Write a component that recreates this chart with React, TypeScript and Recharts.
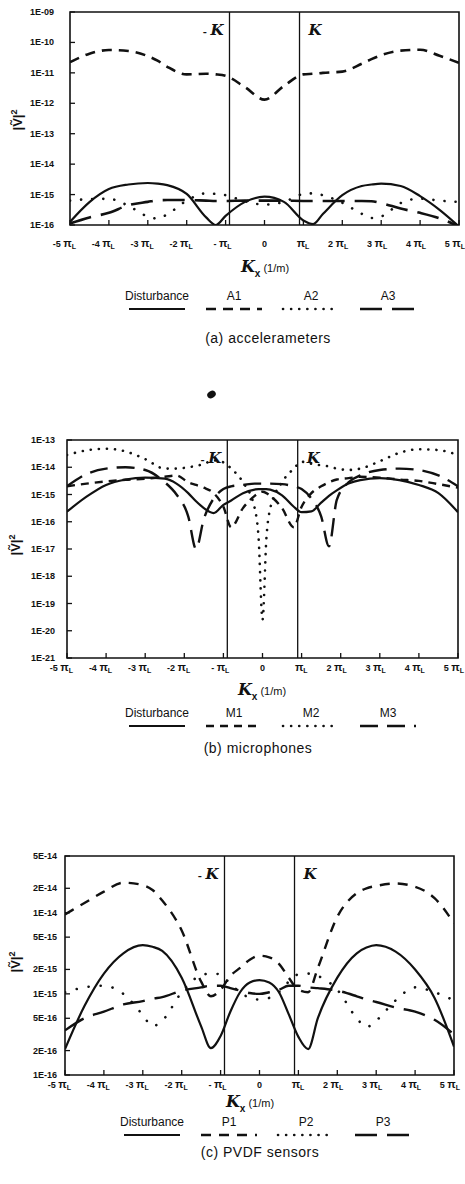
import { LineChart, Line, XAxis, YAxis, ReferenceLine, ReferenceArea } from "recharts";

const INK = "#111";
const SANS = "'Liberation Sans', Arial, sans-serif";

// all series are log10 |V|^2
const xA = [-5, -4.5, -4, -3.5, -3, -2.75, -2.5, -2, -1.5, -1.25, -1, -0.5, 0, 0.5, 1, 1.25, 1.5, 2, 2.5, 2.75, 3, 3.5, 4, 4.5, 5];
const distA = [-15.9, -15.25, -14.82, -14.67, -14.62, -14.64, -14.69, -14.98, -15.75, -16.0, -15.7, -15.24, -15.07, -15.24, -15.85, -15.97, -15.64, -15.02, -14.72, -14.67, -14.64, -14.72, -15.05, -15.5, -16.05];
const a1 = [-10.65, -10.37, -10.25, -10.28, -10.45, -10.6, -10.8, -11.05, -11.03, -11.05, -11.1, -11.47, -11.88, -11.43, -11.05, -11.03, -11.0, -10.96, -10.7, -10.55, -10.42, -10.27, -10.24, -10.44, -10.67];
const a2 = [-15.2, -15.15, -15.14, -15.37, -15.72, -15.79, -15.65, -15.2, -14.96, -14.98, -15.02, -15.22, -15.33, -15.24, -14.98, -14.96, -15.02, -15.27, -15.63, -15.77, -15.72, -15.28, -15.13, -15.2, -15.24];
const a3 = [-15.95, -15.75, -15.6, -15.35, -15.24, -15.19, -15.18, -15.18, -15.2, -15.21, -15.21, -15.2, -15.2, -15.2, -15.21, -15.21, -15.21, -15.21, -15.21, -15.22, -15.28, -15.46, -15.6, -15.78, -16.05];

const xB = [-5, -4.5, -4, -3.5, -3, -2.5, -2.2, -1.9, -1.7, -1.5, -1.25, -1, -0.8, -0.5, -0.2, -0.1, 0, 0.1, 0.2, 0.5, 0.8, 1, 1.25, 1.5, 1.7, 1.9, 2.2, 2.5, 3, 3.5, 4, 4.5, 5];
const distB = [-15.63, -15.08, -14.65, -14.45, -14.38, -14.42, -14.6, -14.95, -15.25, -15.5, -15.68, -15.38, -15.22, -14.95, -14.82, -14.8, -14.8, -14.8, -14.82, -15.03, -15.45, -15.65, -15.62, -15.3, -15.05, -14.85, -14.6, -14.47, -14.4, -14.47, -14.65, -14.95, -15.65];
const m1 = [-14.7, -14.6, -14.52, -14.46, -14.42, -14.35, -14.3, -14.55, -14.65, -14.75, -14.95, -15.45, -16.2, -15.5, -15.05, -14.95, -14.9, -14.95, -15.05, -15.5, -16.2, -15.45, -14.95, -14.7, -14.55, -14.45, -14.4, -14.35, -14.38, -14.45, -14.5, -14.62, -14.75];
const m2 = [-13.55, -13.38, -13.32, -13.42, -13.7, -14.05, -14.05, -14.0, -13.95, -13.88, -13.75, -13.82, -14.05, -14.55, -15.5, -16.6, -19.6, -16.6, -15.5, -14.55, -14.05, -13.8, -13.87, -13.93, -13.97, -14.05, -14.1, -14.05, -13.78, -13.47, -13.34, -13.37, -13.55];
const m3 = [-14.7, -14.25, -14.05, -14.0, -14.1, -14.55, -15.0, -15.8, -17.0, -15.9, -15.15, -14.8, -14.7, -14.65, -14.6, -14.6, -14.6, -14.6, -14.6, -14.62, -14.7, -14.8, -15.15, -15.8, -16.9, -15.2, -14.55, -14.3, -14.1, -14.05, -14.1, -14.3, -14.7];

const xC = [-5, -4.5, -4, -3.5, -3, -2.75, -2.5, -2, -1.5, -1.25, -1, -0.75, -0.5, -0.25, 0, 0.25, 0.5, 0.75, 1, 1.25, 1.5, 2, 2.5, 2.75, 3, 3.5, 4, 4.5, 5];
const distC = [-15.68, -15.15, -14.75, -14.5, -14.4, -14.42, -14.47, -14.8, -15.4, -15.67, -15.52, -15.22, -14.98, -14.86, -14.83, -14.86, -14.98, -15.25, -15.53, -15.68, -15.3, -14.8, -14.5, -14.43, -14.4, -14.48, -14.7, -15.05, -15.65];
const p1 = [-14.02, -13.88, -13.74, -13.63, -13.66, -13.72, -13.85, -14.22, -14.85, -15.03, -14.95, -14.78, -14.68, -14.58, -14.53, -14.55, -14.63, -14.8, -14.95, -14.98, -14.68, -14.05, -13.76, -13.7, -13.67, -13.64, -13.68, -13.82, -14.13];
const p2 = [-14.98, -14.92, -14.9, -15.0, -15.26, -15.4, -15.33, -14.98, -14.77, -14.75, -14.76, -14.88, -14.98, -15.05, -15.07, -15.05, -14.98, -14.85, -14.76, -14.75, -14.78, -14.95, -15.3, -15.41, -15.33, -15.08, -14.92, -14.98, -15.08];
const p3 = [-15.45, -15.3, -15.22, -15.13, -15.09, -15.06, -15.04, -14.96, -14.92, -14.9, -14.9, -14.93, -14.96, -14.99, -15.0, -14.98, -14.95, -14.9, -14.9, -14.92, -14.93, -14.96, -15.03, -15.07, -15.1, -15.17, -15.22, -15.32, -15.5];

const yTicksA = ["1E-16", "1E-15", "1E-14", "1E-13", "1E-12", "1E-11", "1E-10", "1E-09"];
const yTicksB = ["1E-21", "1E-20", "1E-19", "1E-18", "1E-17", "1E-16", "1E-15", "1E-14", "1E-13"];
const yTicksC = ["1E-16", "2E-16", "5E-16", "1E-15", "2E-15", "5E-15", "1E-14", "2E-14", "5E-14"];
const xTicks = [-5, -4, -3, -2, -1, 0, 1, 2, 3, 4, 5];
const kappa = 0.9;

type Series = { key: string; label: string; values: number[]; dash?: string; width: number; round?: boolean };

const seriesA: Series[] = [
  { key: "dist", label: "Disturbance", values: distA, width: 2.2 },
  { key: "a1", label: "A1", values: a1, dash: "10 7", width: 2.6 },
  { key: "a2", label: "A2", values: a2, dash: "0.1 11", width: 2.6, round: true },
  { key: "a3", label: "A3", values: a3, dash: "22 10", width: 2.6 },
];
const seriesB: Series[] = [
  { key: "dist", label: "Disturbance", values: distB, width: 2.2 },
  { key: "m1", label: "M1", values: m1, dash: "8 6", width: 2.4 },
  { key: "m2", label: "M2", values: m2, dash: "0.1 8", width: 2.6, round: true },
  { key: "m3", label: "M3", values: m3, dash: "18 9", width: 2.4 },
];
const seriesC: Series[] = [
  { key: "dist", label: "Disturbance", values: distC, width: 2.2 },
  { key: "p1", label: "P1", values: p1, dash: "10 8", width: 2.4 },
  { key: "p2", label: "P2", values: p2, dash: "0.1 12", width: 2.6, round: true },
  { key: "p3", label: "P3", values: p3, dash: "22 10", width: 2.4 },
];

function XTick(props: any) {
  const { x, y, payload, dy } = props;
  const v = payload.value as number;
  const prefix = v === 1 ? "" : v === -1 ? "- " : `${v} `;
  const style = { fontFamily: SANS, fontSize: 9, fontWeight: 700, fill: INK };
  return (
    <g>
      <line x1={x} x2={x} y1={y} y2={y - 5} stroke={INK} strokeWidth={1.3} />
      {v === 0 ? (
        <text x={x} y={y + dy + 3} textAnchor="middle" style={style}>0</text>
      ) : (
        <text x={x + 6} y={y + dy + 3} textAnchor="end" style={style}>
          {prefix}
          <tspan fontSize={11}>π</tspan>
          <tspan fontSize={7} dy={1.5}>L</tspan>
        </text>
      )}
    </g>
  );
}

function YTick(props: any) {
  const { x, y, payload, labels, positions, gap } = props;
  const i = positions.findIndex((p: number) => Math.abs(p - payload.value) < 1e-6);
  return (
    <g>
      <line x1={x} x2={x + 5} y1={y} y2={y} stroke={INK} strokeWidth={1.3} />
      <text x={x - gap} y={y + 3} textAnchor="end" style={{ fontFamily: SANS, fontSize: 9, fontWeight: 700, fill: INK }}>
        {labels[i]}
      </text>
    </g>
  );
}

function KappaLabel(props: any) {
  const { viewBox, minus } = props;
  const { x, y } = viewBox;
  return (
    <text
      x={minus ? x - 6 : x + 9}
      y={y + 23}
      textAnchor={minus ? "end" : "start"}
      style={{ fontFamily: "'DejaVu Serif', serif", fontStyle: "italic", fontWeight: 700, fill: INK }}
    >
      {minus && <tspan fontSize={10} fontStyle="normal">- </tspan>}
      <tspan fontSize={15}>K</tspan>
    </text>
  );
}

type PanelProps = {
  top: number;
  height: number;
  plotTop: number;
  plotBottom: number;
  plotLeft: number;
  plotRight: number;
  xs: number[];
  series: Series[];
  yLabels: string[];
  xLabelDy: number;
  yLabelGap: number;
};

function Panel(p: PanelProps) {
  const rows = p.xs.map((x, i) => {
    const r: Record<string, number> = { x };
    p.series.forEach((s) => (r[s.key] = s.values[i]));
    return r;
  });
  const yPos = p.yLabels.map((l) => Math.log10(Number(l)));
  const yMin = yPos[0];
  const yMax = yPos[yPos.length - 1];
  const xAxisH = 20;
  const margin = {
    top: p.plotTop - p.top,
    right: 465 - p.plotRight,
    left: 0,
    bottom: p.height - (p.plotBottom - p.top) - xAxisH,
  };
  return (
    <div style={{ position: "absolute", left: 0, top: p.top }}>
      <LineChart width={465} height={p.height} data={rows} margin={margin}>
        <XAxis
          dataKey="x"
          type="number"
          domain={[-5, 5]}
          ticks={xTicks}
          interval={0}
          height={xAxisH}
          tickSize={0}
          tickMargin={0}
          axisLine={false}
          tickLine={false}
          allowDataOverflow
          tick={<XTick dy={p.xLabelDy} />}
        />
        <YAxis
          type="number"
          domain={[yMin, yMax]}
          ticks={yPos}
          interval={0}
          width={p.plotLeft}
          tickSize={0}
          tickMargin={0}
          axisLine={false}
          tickLine={false}
          allowDataOverflow
          tick={<YTick labels={p.yLabels} positions={yPos} gap={p.yLabelGap} />}
        />
        <ReferenceArea x1={-5} x2={5} y1={yMin} y2={yMax} fill="none" stroke={INK} strokeWidth={1.6} fillOpacity={0} />
        <ReferenceLine x={-kappa} stroke={INK} strokeWidth={1.3} label={<KappaLabel minus />} />
        <ReferenceLine x={kappa} stroke={INK} strokeWidth={1.3} label={<KappaLabel />} />
        {p.series.map((s) => (
          <Line
            key={s.key}
            type="monotone"
            dataKey={s.key}
            stroke={INK}
            strokeWidth={s.width}
            strokeDasharray={s.dash}
            strokeLinecap={s.round ? "round" : "butt"}
            dot={false}
            activeDot={false}
            isAnimationActive={false}
          />
        ))}
      </LineChart>
    </div>
  );
}

function LegendRow({ top, start, series }: { top: number; start: number; series: Series[] }) {
  return (
    <svg style={{ position: "absolute", left: 0, top }} width={465} height={26}>
      {series.map((s, i) => {
        const cx = start + i * 77;
        return (
          <g key={s.key}>
            <text x={cx} y={14} textAnchor="middle" style={{ fontFamily: SANS, fontSize: 12, fill: INK }}>
              {s.label}
            </text>
            <line
              x1={cx - 28}
              x2={cx + 28}
              y1={23}
              y2={23}
              stroke={INK}
              strokeWidth={s.width}
              strokeDasharray={s.dash ? s.dash.replace("11", "8").replace("12", "8") : undefined}
              strokeLinecap={s.round ? "round" : "butt"}
            />
          </g>
        );
      })}
    </svg>
  );
}

function Text({ x, y, children, style }: { x: number; y: number; children: any; style?: any }) {
  return (
    <div
      style={{
        position: "absolute",
        left: x,
        top: y,
        transform: "translate(-50%, -50%)",
        whiteSpace: "nowrap",
        fontFamily: SANS,
        color: INK,
        ...style,
      }}
    >
      {children}
    </div>
  );
}

function KxLabel({ x, y }: { x: number; y: number }) {
  return (
    <Text x={x} y={y}>
      <span style={{ fontFamily: "'DejaVu Serif', serif", fontStyle: "italic", fontWeight: 700, fontSize: 16 }}>K</span>
      <sub style={{ fontSize: 10, fontWeight: 700 }}>x</sub>
      <span style={{ fontSize: 11 }}> (1/m)</span>
    </Text>
  );
}

function VLabel({ x, y }: { x: number; y: number }) {
  return (
    <Text x={x} y={y} style={{ transform: "translate(-50%, -50%) rotate(-90deg)", fontSize: 13, fontWeight: 700 }}>
      |V&#x303;|<sup style={{ fontSize: 9 }}>2</sup>
    </Text>
  );
}

export default function App() {
  return (
    <div style={{ position: "absolute", left: 0, top: 0, width: 465, height: 1184, background: "#fff", overflow: "hidden" }}>
      <Panel top={0} height={262} plotTop={12} plotBottom={225} plotLeft={70} plotRight={459} xs={xA} series={seriesA} yLabels={yTicksA} xLabelDy={19} yLabelGap={16} />
      <VLabel x={17} y={120} />
      <KxLabel x={265} y={268} />
      <LegendRow top={286} start={157} series={seriesA} />
      <Text x={268} y={338} style={{ fontSize: 14, letterSpacing: 0.5 }}>(a) accelerameters</Text>

      <div style={{ position: "absolute", left: 207, top: 391, width: 9, height: 7, borderRadius: "50%", background: INK, transform: "rotate(-30deg)" }} />

      <Panel top={420} height={260} plotTop={440} plotBottom={658} plotLeft={67} plotRight={458} xs={xB} series={seriesB} yLabels={yTicksB} xLabelDy={10} yLabelGap={12} />
      <VLabel x={15} y={545} />
      <KxLabel x={262} y={691} />
      <LegendRow top={703} start={157} series={seriesB} />
      <Text x={258} y={748} style={{ fontSize: 14, letterSpacing: 0.5 }}>(b) microphones</Text>

      <Panel top={830} height={270} plotTop={856} plotBottom={1075} plotLeft={65} plotRight={454} xs={xC} series={seriesC} yLabels={yTicksC} xLabelDy={10} yLabelGap={8} />
      <VLabel x={15} y={962} />
      <KxLabel x={250} y={1103} />
      <LegendRow top={1112} start={152} series={seriesC} />
      <Text x={260} y={1152} style={{ fontSize: 14, letterSpacing: 0.5 }}>(c) PVDF sensors</Text>
    </div>
  );
}
